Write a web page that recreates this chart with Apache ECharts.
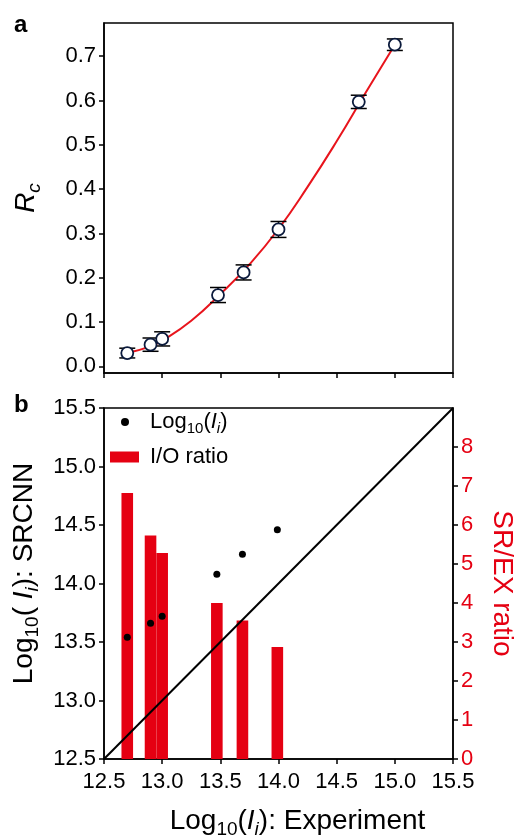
<!DOCTYPE html>
<html>
<head>
<meta charset="utf-8">
<title>Rc and SRCNN</title>
<script src="https://cdn.jsdelivr.net/npm/echarts@6/dist/echarts.min.js"></script>
<style>
  html, body { margin: 0; padding: 0; background: #fff; }
  #chart { width: 515px; height: 835px; }
</style>
</head>
<body>
<div id="chart"></div>
<script>
// panel a: Rc vs Log10(Ii)
var xA = [12.7, 12.9, 13.0, 13.48, 13.7, 14.0, 14.69, 15.0];
var yA = [0.030, 0.049, 0.062, 0.161, 0.212, 0.309, 0.597, 0.726];
var errA = [0.011, 0.015, 0.016, 0.017, 0.017, 0.018, 0.015, 0.013];
// red fitted curve
var fitX = [12.7, 12.9, 13.0, 13.25, 13.5, 13.75, 14.0, 14.25, 14.5, 14.75, 15.0];
var fitY = [0.03, 0.045, 0.058, 0.103, 0.163, 0.230, 0.31, 0.405, 0.508, 0.618, 0.726];
var ticksA = [0, 0.1, 0.2, 0.3, 0.4, 0.5, 0.6, 0.7];

// panel b: SRCNN vs experiment, I/O ratio bars
var xB = [12.7, 12.9, 13.0, 13.47, 13.69, 13.99];
var srB = [13.54, 13.66, 13.72, 14.08, 14.25, 14.46];
var ratioB = [6.82, 5.73, 5.28, 4.0, 3.55, 2.87];
var diag = [12.5, 15.5];

var FONT = 'Liberation Sans';
var RED = '#e50012';

function subRich(big, small, lh) {
    return {
        n: { fontSize: big, fontFamily: FONT, lineHeight: lh, color: '#000' },
        s: { fontSize: small, fontFamily: FONT, lineHeight: small, verticalAlign: 'bottom', color: '#000' },
        i: { fontSize: big, fontFamily: FONT, fontStyle: 'italic', lineHeight: lh, color: '#000' },
        si: { fontSize: small, fontFamily: FONT, fontStyle: 'italic', lineHeight: small, verticalAlign: 'bottom', color: '#000' }
    };
}
var rich = subRich(28, 19, 36);
// first token padded so the title sits off-centre as in the figure
rich.p = Object.assign({}, rich.n, { padding: [0, 0, 0, 38] });
rich.q = Object.assign({}, rich.n, { padding: [0, 0, 0, 20] });
var legRich = subRich(22, 15, 28);
legRich.p = Object.assign({}, legRich.n, { padding: [0, 0, 0, 16] });
legRich.q = Object.assign({}, legRich.n, { padding: [0, 0, 0, 6] });

var tickLabel = { fontSize: 22, fontFamily: FONT, color: '#000' };
var axisLine = { show: true, onZero: false, lineStyle: { color: '#000', width: 1.5 } };
var axisTick = { show: true, inside: false, length: 5, lineStyle: { color: '#000', width: 1.5 } };

var chart = echarts.init(document.getElementById('chart'));
var option = {
    animation: false,
    backgroundColor: '#fff',
    grid: [
        { left: 104, top: 23, width: 349, height: 350, containLabel: false, outerBoundsMode: 'none',
          show: true, borderColor: '#000', borderWidth: 1.5, backgroundColor: 'transparent' },
        { left: 104, top: 408, width: 349, height: 351, containLabel: false, outerBoundsMode: 'none',
          show: true, borderColor: '#000', borderWidth: 1.5, backgroundColor: 'transparent' }
    ],
    legend: [
        {
            data: [{ name: 'log', icon: 'circle' }],
            left: 121, top: 411, padding: 0, itemWidth: 8, itemHeight: 8,
            formatter: function () { return '{p|Log}{s|10}{n|(}{i|I}{si|i}{n|)}'; },
            textStyle: { rich: legRich }
        },
        {
            data: [{ name: 'I/O ratio', icon: 'rect' }],
            left: 110, top: 446, padding: 0, itemWidth: 29, itemHeight: 11,
            formatter: function (name) { return '{q|' + name + '}'; },
            textStyle: { rich: legRich }
        }
    ],
    graphic: [
        { type: 'text', left: 14, top: 13, style: { text: 'a', font: 'bold 24px "Liberation Sans"', fill: '#000' } },
        { type: 'text', left: 14, top: 393, style: { text: 'b', font: 'bold 24px "Liberation Sans"', fill: '#000' } }
    ],
    xAxis: [
        {
            gridIndex: 0, type: 'value', min: 12.5, max: 15.5, interval: 0.5,
            axisLine: axisLine, axisTick: axisTick, axisLabel: { show: false }, splitLine: { show: false }
        },
        {
            gridIndex: 1, type: 'value', min: 12.5, max: 15.5, interval: 0.5,
            axisLine: axisLine, axisTick: axisTick,
            axisLabel: Object.assign({ margin: 12, formatter: function (v) { return v.toFixed(1); } }, tickLabel),
            splitLine: { show: false },
            name: '{p|Log}{s|10}{n|(}{i|I}{si|i}{n|): Experiment}',
            nameLocation: 'middle', nameGap: 44,
            nameTextStyle: { rich: rich }
        }
    ],
    yAxis: [
        {
            gridIndex: 0, type: 'value', min: -0.015, max: 0.775,
            axisLine: axisLine,
            axisTick: Object.assign({ customValues: ticksA }, axisTick),
            axisLabel: Object.assign({ margin: 8, customValues: ticksA, formatter: function (v) { return v.toFixed(1); } }, tickLabel),
            splitLine: { show: false },
            name: '{i|R}{si|c}', nameLocation: 'middle', nameGap: 60,
            nameTextStyle: { rich: rich }
        },
        {
            gridIndex: 1, type: 'value', min: 12.5, max: 15.5, interval: 0.5,
            axisLine: axisLine, axisTick: axisTick,
            axisLabel: Object.assign({ margin: 8, formatter: function (v) { return v.toFixed(1); } }, tickLabel),
            splitLine: { show: false },
            name: '{q|Log}{s|10}{n|( }{i|I}{si|i}{n|): SRCNN}', nameLocation: 'middle', nameGap: 61,
            nameTextStyle: { rich: rich }
        },
        {
            gridIndex: 1, type: 'value', position: 'right', min: 0, max: 9, interval: 1,
            axisLine: axisLine, axisTick: axisTick,
            axisLabel: { margin: 8, showMaxLabel: false, fontSize: 22, fontFamily: FONT, color: RED },
            splitLine: { show: false },
            name: 'SR/EX ratio', nameLocation: 'middle', nameGap: 35, nameRotate: -90,
            nameTextStyle: { fontSize: 28, fontFamily: FONT, color: RED }
        }
    ],
    series: [
        {
            name: 'fit', type: 'line', xAxisIndex: 0, yAxisIndex: 0, smooth: true,
            showSymbol: false, symbol: 'none',
            lineStyle: { color: '#e8141c', width: 2 },
            data: fitX.map(function (x, i) { return [x, fitY[i]]; }), z: 2
        },
        {
            name: 'err', type: 'custom', xAxisIndex: 0, yAxisIndex: 0, z: 3,
            renderItem: function (params, api) {
                var x = api.value(0), y = api.value(1), e = api.value(2);
                var top = api.coord([x, y + e]);
                var bot = api.coord([x, y - e]);
                var w = 8;
                var st = { stroke: '#000', lineWidth: 1.5 };
                return {
                    type: 'group',
                    children: [
                        { type: 'line', shape: { x1: top[0], y1: top[1], x2: bot[0], y2: bot[1] }, style: st },
                        { type: 'line', shape: { x1: top[0] - w, y1: top[1], x2: top[0] + w, y2: top[1] }, style: st },
                        { type: 'line', shape: { x1: bot[0] - w, y1: bot[1], x2: bot[0] + w, y2: bot[1] }, style: st }
                    ]
                };
            },
            data: xA.map(function (x, i) { return [x, yA[i], errA[i]]; })
        },
        {
            name: 'Rc', type: 'scatter', xAxisIndex: 0, yAxisIndex: 0, z: 4,
            symbol: 'circle', symbolSize: 12,
            itemStyle: { color: '#fff', borderColor: '#0b1a3c', borderWidth: 1.8, opacity: 1 },
            data: xA.map(function (x, i) { return [x, yA[i]]; })
        },
        {
            name: 'I/O ratio', type: 'bar', xAxisIndex: 1, yAxisIndex: 2, z: 1,
            barWidth: 11.6, itemStyle: { color: RED },
            data: xB.map(function (x, i) { return [x, ratioB[i]]; })
        },
        {
            name: 'diag', type: 'line', xAxisIndex: 1, yAxisIndex: 1, z: 3,
            showSymbol: false, symbol: 'none',
            lineStyle: { color: '#000', width: 2 },
            data: [[diag[0], diag[0]], [diag[1], diag[1]]]
        },
        {
            name: 'log', type: 'scatter', xAxisIndex: 1, yAxisIndex: 1, z: 4,
            symbolSize: 7, itemStyle: { color: '#000', opacity: 1 },
            data: xB.map(function (x, i) { return [x, srB[i]]; })
        }
    ]
};
chart.setOption(option);
</script>
</body>
</html>
